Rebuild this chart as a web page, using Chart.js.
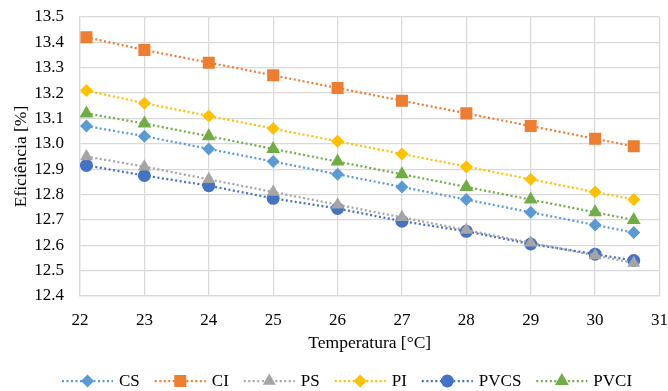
<!DOCTYPE html>
<html>
<head>
<meta charset="utf-8">
<script src="https://cdn.jsdelivr.net/npm/chart.js@4/dist/chart.umd.min.js"></script>
<style>
html,body{margin:0;padding:0;background:#fff;}
#wrap{width:668px;height:391px;}
</style>
</head>
<body>
<div id="wrap"><canvas id="c" width="668" height="391"></canvas></div>
<script>
const temperatures = [22.1, 23, 24, 25, 26, 27, 28, 29, 30, 30.6];
const CS   = [13.07, 13.03, 12.98, 12.93, 12.88, 12.83, 12.78, 12.73, 12.68, 12.65];
const CI   = [13.42, 13.37, 13.32, 13.27, 13.22, 13.17, 13.12, 13.07, 13.02, 12.99];
const PS   = [12.95, 12.91, 12.86, 12.81, 12.76, 12.71, 12.66, 12.61, 12.56, 12.53];
const PI   = [13.21, 13.16, 13.11, 13.06, 13.01, 12.96, 12.91, 12.86, 12.81, 12.78];
const PVCS = [12.915, 12.875, 12.835, 12.785, 12.745, 12.695, 12.655, 12.605, 12.565, 12.54];
const PVCI = [13.12, 13.08, 13.03, 12.98, 12.93, 12.88, 12.83, 12.78, 12.73, 12.70];
const seriesNames = ['CS', 'CI', 'PS', 'PI', 'PVCS', 'PVCI'];
const seriesValues = [CS, CI, PS, PI, PVCS, PVCI];
const colors = ['#5B9BD5', '#ED7D31', '#A5A5A5', '#FFC000', '#4472C4', '#70AD47'];
const styles = ['rectRot', 'rect', 'triangle', 'rectRot', 'circle', 'triangle'];
const radii = [6.5, 8.5, 7.5, 6.5, 6.5, 8];

const FONT = "'Liberation Serif', 'Times New Roman', serif";

const datasets = seriesNames.map((n, i) => ({
  label: n,
  data: temperatures.map((t, j) => ({x: t, y: seriesValues[i][j]})),
  borderColor: colors[i],
  backgroundColor: colors[i],
  pointBackgroundColor: colors[i],
  pointBorderColor: colors[i],
  pointBorderWidth: 0,
  pointStyle: styles[i],
  pointRadius: radii[i],
  pointHoverRadius: radii[i],
  borderWidth: 2.25,
  borderDash: [2, 2.5],
  fill: false,
  tension: 0
}));

const legendPlugin = {
  id: 'lineLegend',
  afterDraw(chart) {
    const ctx = chart.ctx;
    ctx.save();
    ctx.font = '17px ' + FONT;
    const lineLen = 51, gapText = 6, spacing = 15;
    const widths = seriesNames.map(n => lineLen + gapText + ctx.measureText(n).width);
    let x = 62;
    const y = 381;
    seriesNames.forEach((n, i) => {
      ctx.save();
      ctx.strokeStyle = colors[i];
      ctx.lineWidth = 2.25;
      ctx.setLineDash([2, 2.5]);
      ctx.beginPath();
      ctx.moveTo(x, y);
      ctx.lineTo(x + lineLen, y);
      ctx.stroke();
      ctx.setLineDash([]);
      ctx.fillStyle = colors[i];
      ctx.strokeStyle = colors[i];
      ctx.lineWidth = 0;
      Chart.helpers.drawPoint(ctx, {pointStyle: styles[i], radius: radii[i], borderWidth: 0, rotation: 0}, x + lineLen / 2, y);
      ctx.restore();
      ctx.fillStyle = '#000';
      ctx.textBaseline = 'middle';
      ctx.textAlign = 'left';
      ctx.fillText(n, x + lineLen + gapText, y + 1);
      x += widths[i] + spacing;
    });
    ctx.restore();
  }
};

new Chart(document.getElementById('c'), {
  type: 'line',
  data: { datasets },
  options: {
    responsive: false,
    animation: false,
    devicePixelRatio: 1,
    layout: { padding: { left: 0, right: 7, top: 17, bottom: 0 } },
    plugins: { legend: { display: false }, tooltip: { enabled: false } },
    scales: {
      x: {
        type: 'linear', min: 22, max: 31,
        afterFit: s => { s.height = 95; s.paddingLeft = 0; s.paddingRight = 0; },
        ticks: { stepSize: 1, color: '#000', font: { family: FONT, size: 17 }, padding: 14, maxRotation: 0 },
        grid: { color: '#d9d9d9', lineWidth: 1.25, drawTicks: false },
        border: { color: '#d9d9d9', width: 1.25 },
        title: { display: true, text: 'Temperatura [°C]', color: '#000', font: { family: FONT, size: 17.5 }, padding: { top: 0, bottom: 37 } }
      },
      y: {
        min: 12.4, max: 13.5,
        afterFit: s => { s.width = 80; s.paddingTop = 0; s.paddingBottom = 0; },
        ticks: { stepSize: 0.1, color: '#000', font: { family: FONT, size: 17 }, padding: 16,
          callback: v => Number(v).toFixed(1) },
        grid: { color: '#d9d9d9', lineWidth: 1.25, drawTicks: false },
        border: { color: '#d9d9d9', width: 1.25 },
        title: { display: true, text: 'Eficiência [%]', color: '#000', font: { family: FONT, size: 17.5 }, padding: { top: 10.5, bottom: 0 } }
      }
    }
  },
  plugins: [legendPlugin]
});
</script>
</body>
</html>
